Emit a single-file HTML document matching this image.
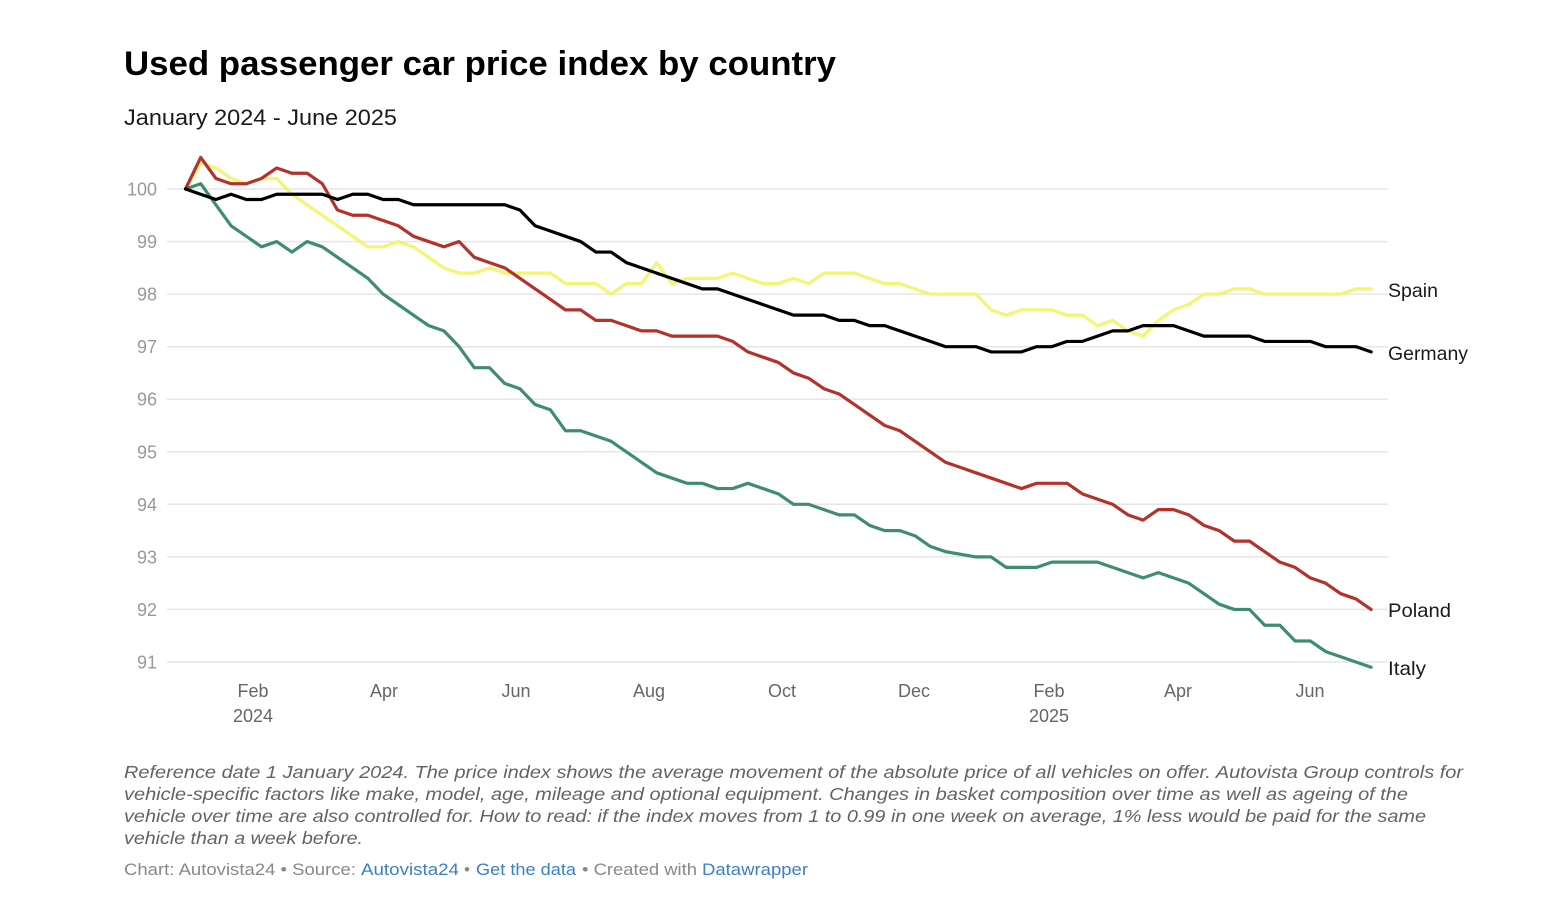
<!DOCTYPE html>
<html>
<head>
<meta charset="utf-8">
<style>
  html, body { margin: 0; padding: 0; background: #ffffff; }
  body { width: 1564px; height: 918px; overflow: hidden; }
  svg { display: block; }
  text { font-family: "Liberation Sans", Arial, sans-serif; }
</style>
</head>
<body>
<svg width="1564" height="918" viewBox="0 0 1564 918" xmlns="http://www.w3.org/2000/svg">
  <rect width="1564" height="918" fill="#ffffff"/>

  <!-- Title -->
  <text x="124" y="75" font-size="34" font-weight="bold" fill="#000" textLength="712" lengthAdjust="spacingAndGlyphs">Used passenger car price index by country</text>
  <text x="124" y="125" font-size="22" fill="#1a1a1a" textLength="273" lengthAdjust="spacingAndGlyphs">January 2024 - June 2025</text>

  <!-- Gridlines -->
  <g stroke="#e6e6e6" stroke-width="1.5">
    <line x1="167" x2="1388" y1="189" y2="189"/>
    <line x1="167" x2="1388" y1="241.6" y2="241.6"/>
    <line x1="167" x2="1388" y1="294.1" y2="294.1"/>
    <line x1="167" x2="1388" y1="346.7" y2="346.7"/>
    <line x1="167" x2="1388" y1="399.2" y2="399.2"/>
    <line x1="167" x2="1388" y1="451.8" y2="451.8"/>
    <line x1="167" x2="1388" y1="504.3" y2="504.3"/>
    <line x1="167" x2="1388" y1="556.9" y2="556.9"/>
    <line x1="167" x2="1388" y1="609.4" y2="609.4"/>
    <line x1="167" x2="1388" y1="662" y2="662"/>
  </g>

  <!-- Y labels -->
  <g font-size="18" fill="#999" text-anchor="end">
    <text x="157" y="195.5">100</text>
    <text x="157" y="248.1">99</text>
    <text x="157" y="300.6">98</text>
    <text x="157" y="353.2">97</text>
    <text x="157" y="405.7">96</text>
    <text x="157" y="458.3">95</text>
    <text x="157" y="510.8">94</text>
    <text x="157" y="563.4">93</text>
    <text x="157" y="615.9">92</text>
    <text x="157" y="668.5">91</text>
  </g>

  <!-- X labels -->
  <g font-size="18" fill="#666" text-anchor="middle">
    <text x="253" y="697">Feb</text>
    <text x="253" y="722">2024</text>
    <text x="384" y="697">Apr</text>
    <text x="516" y="697">Jun</text>
    <text x="649" y="697">Aug</text>
    <text x="782" y="697">Oct</text>
    <text x="914" y="697">Dec</text>
    <text x="1049" y="697">Feb</text>
    <text x="1049" y="722">2025</text>
    <text x="1178" y="697">Apr</text>
    <text x="1310" y="697">Jun</text>
  </g>

  <!-- Series -->
  <g transform="translate(185.5,189) scale(15.2,-52.556) translate(0,-100)" fill="none" stroke-width="3.2" stroke-linejoin="round" stroke-linecap="round">
    <!-- Spain -->
    <polyline vector-effect="non-scaling-stroke" stroke="#f3f573" points="0,100 1,100.5 2,100.4 3,100.2 4,100.1 5,100.2 6,100.2 7,99.9 8,99.7 9,99.5 10,99.3 11,99.1 12,98.9 13,98.9 14,99.0 15,98.9 16,98.7 17,98.5 18,98.4 19,98.4 20,98.5 21,98.4 22,98.4 23,98.4 24,98.4 25,98.2 26,98.2 27,98.2 28,98.0 29,98.2 30,98.2 31,98.6 32,98.2 33,98.3 34,98.3 35,98.3 36,98.4 37,98.3 38,98.2 39,98.2 40,98.3 41,98.2 42,98.4 43,98.4 44,98.4 45,98.3 46,98.2 47,98.2 48,98.1 49,98.0 50,98.0 51,98.0 52,98.0 53,97.7 54,97.6 55,97.7 56,97.7 57,97.7 58,97.6 59,97.6 60,97.4 61,97.5 62,97.3 63,97.2 64,97.5 65,97.7 66,97.8 67,98.0 68,98.0 69,98.1 70,98.1 71,98.0 72,98.0 73,98.0 74,98.0 75,98.0 76,98.0 77,98.1 78,98.1"/>
    <!-- Italy -->
    <polyline vector-effect="non-scaling-stroke" stroke="#3e8d70" points="0,100 1,100.1 2,99.7 3,99.3 4,99.1 5,98.9 6,99.0 7,98.8 8,99.0 9,98.9 10,98.7 11,98.5 12,98.3 13,98.0 14,97.8 15,97.6 16,97.4 17,97.3 18,97.0 19,96.6 20,96.6 21,96.3 22,96.2 23,95.9 24,95.8 25,95.4 26,95.4 27,95.3 28,95.2 29,95.0 30,94.8 31,94.6 32,94.5 33,94.4 34,94.4 35,94.3 36,94.3 37,94.4 38,94.3 39,94.2 40,94.0 41,94.0 42,93.9 43,93.8 44,93.8 45,93.6 46,93.5 47,93.5 48,93.4 49,93.2 50,93.1 51,93.05 52,93.0 53,93.0 54,92.8 55,92.8 56,92.8 57,92.9 58,92.9 59,92.9 60,92.9 61,92.8 62,92.7 63,92.6 64,92.7 65,92.6 66,92.5 67,92.3 68,92.1 69,92.0 70,92.0 71,91.7 72,91.7 73,91.4 74,91.4 75,91.2 76,91.1 77,91.0 78,90.9"/>
    <!-- Poland -->
    <polyline vector-effect="non-scaling-stroke" stroke="#b3322a" points="0,100 1,100.6 2,100.2 3,100.1 4,100.1 5,100.2 6,100.4 7,100.3 8,100.3 9,100.1 10,99.6 11,99.5 12,99.5 13,99.4 14,99.3 15,99.1 16,99.0 17,98.9 18,99.0 19,98.7 20,98.6 21,98.5 22,98.3 23,98.1 24,97.9 25,97.7 26,97.7 27,97.5 28,97.5 29,97.4 30,97.3 31,97.3 32,97.2 33,97.2 34,97.2 35,97.2 36,97.1 37,96.9 38,96.8 39,96.7 40,96.5 41,96.4 42,96.2 43,96.1 44,95.9 45,95.7 46,95.5 47,95.4 48,95.2 49,95.0 50,94.8 51,94.7 52,94.6 53,94.5 54,94.4 55,94.3 56,94.4 57,94.4 58,94.4 59,94.2 60,94.1 61,94.0 62,93.8 63,93.7 64,93.9 65,93.9 66,93.8 67,93.6 68,93.5 69,93.3 70,93.3 71,93.1 72,92.9 73,92.8 74,92.6 75,92.5 76,92.3 77,92.2 78,92.0"/>
    <!-- Germany -->
    <polyline vector-effect="non-scaling-stroke" stroke="#000000" points="0,100 1,99.9 2,99.8 3,99.9 4,99.8 5,99.8 6,99.9 7,99.9 8,99.9 9,99.9 10,99.8 11,99.9 12,99.9 13,99.8 14,99.8 15,99.7 16,99.7 17,99.7 18,99.7 19,99.7 20,99.7 21,99.7 22,99.6 23,99.3 24,99.2 25,99.1 26,99.0 27,98.8 28,98.8 29,98.6 30,98.5 31,98.4 32,98.3 33,98.2 34,98.1 35,98.1 36,98.0 37,97.9 38,97.8 39,97.7 40,97.6 41,97.6 42,97.6 43,97.5 44,97.5 45,97.4 46,97.4 47,97.3 48,97.2 49,97.1 50,97.0 51,97.0 52,97.0 53,96.9 54,96.9 55,96.9 56,97.0 57,97.0 58,97.1 59,97.1 60,97.2 61,97.3 62,97.3 63,97.4 64,97.4 65,97.4 66,97.3 67,97.2 68,97.2 69,97.2 70,97.2 71,97.1 72,97.1 73,97.1 74,97.1 75,97.0 76,97.0 77,97.0 78,96.9"/>
  </g>

  <!-- Series labels -->
  <g font-size="19.5" fill="#1a1a1a">
    <text x="1388" y="297" textLength="50" lengthAdjust="spacingAndGlyphs">Spain</text>
    <text x="1388" y="360" textLength="80" lengthAdjust="spacingAndGlyphs">Germany</text>
    <text x="1388" y="617" textLength="63" lengthAdjust="spacingAndGlyphs">Poland</text>
    <text x="1388" y="675" textLength="38" lengthAdjust="spacingAndGlyphs">Italy</text>
  </g>

  <!-- Notes -->
  <g font-size="17.5" font-style="italic" fill="#636363">
    <text x="124" y="778" textLength="1339" lengthAdjust="spacingAndGlyphs">Reference date 1 January 2024. The price index shows the average movement of the absolute price of all vehicles on offer. Autovista Group controls for</text>
    <text x="124" y="800" textLength="1284" lengthAdjust="spacingAndGlyphs">vehicle-specific factors like make, model, age, mileage and optional equipment. Changes in basket composition over time as well as ageing of the</text>
    <text x="124" y="822" textLength="1302" lengthAdjust="spacingAndGlyphs">vehicle over time are also controlled for. How to read: if the index moves from 1 to 0.99 in one week on average, 1% less would be paid for the same</text>
    <text x="124" y="844" textLength="239" lengthAdjust="spacingAndGlyphs">vehicle than a week before.</text>
  </g>

  <!-- Footer -->
  <g font-size="17">
    <text x="124" y="875" fill="#888" textLength="232" lengthAdjust="spacingAndGlyphs">Chart: Autovista24 • Source:</text>
    <text x="361" y="875" fill="#3b7fc4" textLength="98" lengthAdjust="spacingAndGlyphs">Autovista24</text>
    <text x="464" y="875" fill="#888">•</text>
    <text x="476" y="875" fill="#3b7fc4" textLength="100" lengthAdjust="spacingAndGlyphs">Get the data</text>
    <text x="582" y="875" fill="#888" textLength="115" lengthAdjust="spacingAndGlyphs">• Created with</text>
    <text x="702" y="875" fill="#3b7fc4" textLength="106" lengthAdjust="spacingAndGlyphs">Datawrapper</text>
  </g>
</svg>
</body>
</html>
